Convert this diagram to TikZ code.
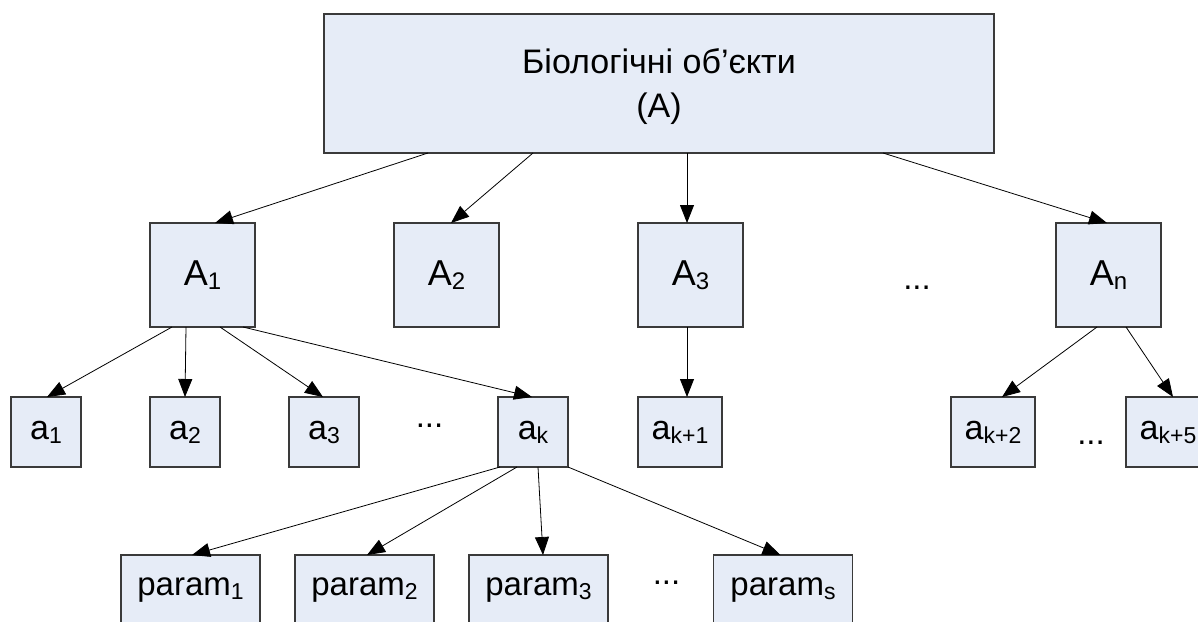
\documentclass[tikz,border=0pt]{standalone}
\usepackage{fontspec}
\setmainfont{Liberation Sans}
\usetikzlibrary{arrows.meta}
\definecolor{boxfill}{HTML}{E6ECF7}
\definecolor{boxline}{HTML}{3A3A3A}
% lowered, smaller index after a letter
\newcommand\lowidx[1]{\raisebox{-4pt}{\fontsize{23}{23}\selectfont #1}}
\newcommand\bigidx[1]{\raisebox{-4pt}{\fontsize{24}{24}\selectfont #1}}

\begin{document}
\begin{tikzpicture}[x=1pt,y=-1pt,
  blk/.style={draw=boxline, line width=1.1pt, fill=boxfill, inner sep=0pt, outer sep=0pt,
              font=\fontsize{34}{44}\selectfont, align=center},
  big/.style={blk, minimum width=105pt, minimum height=104pt, font=\fontsize{36}{44}\selectfont},
  sm/.style={blk, minimum width=70pt, minimum height=70pt},
  wide/.style={blk, minimum width=84pt, minimum height=70pt},
  par/.style={blk, minimum width=139pt, minimum height=70pt, font=\fontsize{33}{44}\selectfont},
  link/.style={draw=black, line width=0.8pt, -{Triangle[length=18pt,width=14pt]}},
  gap/.style={font=\fontsize{33}{33}\selectfont, anchor=base, inner sep=0pt}
]
\useasboundingbox (0,0) rectangle (1198,621);
\clip (0,0) rectangle (1198,621);

% root
\node[blk, minimum width=670pt, minimum height=139pt, text depth=0pt] (top) at (659,83.5) {Біологічні об’єкти\\(A)};

% first level
\node[big] (A1) at (202.5,275) {A\bigidx{1}};
\node[big] (A2) at (446.5,275) {A\bigidx{2}};
\node[big] (A3) at (690.5,275) {A\bigidx{3}};
\node[big] (An) at (1108.5,275) {A\bigidx{n}};
\node[gap] (d1) at (917,289) {...};

% second level
\node[sm] (a1) at (46,432) {a\lowidx{1}};
\node[sm] (a2) at (185,432) {a\lowidx{2}};
\node[sm] (a3) at (324,432) {a\lowidx{3}};
\node[sm] (ak) at (533,432) {a\lowidx{k}};
\node[wide] (ak1) at (680,432) {a\lowidx{k+1}};
\node[wide] (ak2) at (993,432) {a\lowidx{k+2}};
\node[wide] (ak5) at (1168,432) {a\lowidx{k+5}};
\node[gap] (d2) at (429.5,427) {...};
\node[gap] (d3) at (1091,444) {...};

% parameters
\node[par] (p1) at (190.5,590) {param\lowidx{1}};
\node[par] (p2) at (364.5,590) {param\lowidx{2}};
\node[par] (p3) at (538.5,590) {param\lowidx{3}};
\node[par] (ps) at (783,590) {param\lowidx{s}};
\node[gap] (d4) at (666.5,584) {...};

% root to first level
\draw[link] ([xshift=104pt]top.south west) -- ([xshift=65pt]A1.north west);
\draw[link] ([xshift=209pt]top.south west) -- ([xshift=57pt]A2.north west);
\draw[link] ([xshift=363pt]top.south west) -- ([xshift=49pt]A3.north west);
\draw[link] ([xshift=559pt]top.south west) -- ([xshift=51pt]An.north west);

% first to second level
\draw[link] ([xshift=22pt]A1.south west) -- ([xshift=36pt]a1.north west);
\draw[link] ([xshift=36pt]A1.south west) -- ([xshift=35pt]a2.north west);
\draw[link] ([xshift=70pt]A1.south west) -- ([xshift=34pt]a3.north west);
\draw[link] ([xshift=93pt]A1.south west) -- ([xshift=34pt]ak.north west);
\draw[link] ([xshift=49pt]A3.south west) -- ([xshift=49pt]ak1.north west);
\draw[link] ([xshift=41pt]An.south west) -- ([xshift=51pt]ak2.north west);
\draw[link] ([xshift=70pt]An.south west) -- ([xshift=47pt]ak5.north west);

% a_k to parameters
\draw[link] ([xshift=2pt]ak.south west) -- ([xshift=71pt]p1.north west);
\draw[link] ([xshift=19pt]ak.south west) -- ([xshift=72pt]p2.north west);
\draw[link] ([xshift=40pt]ak.south west) -- ([xshift=74pt]p3.north west);
\draw[link] (ak.south east) -- ([xshift=67pt]ps.north west);
\end{tikzpicture}
\end{document}
